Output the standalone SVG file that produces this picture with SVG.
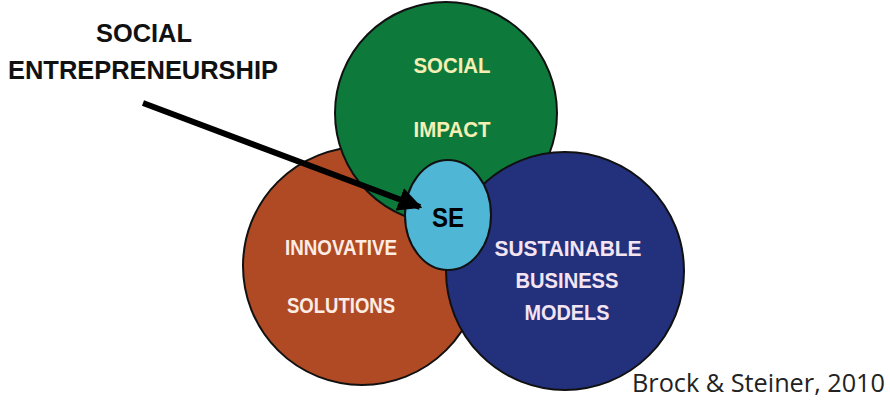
<svg xmlns="http://www.w3.org/2000/svg" width="890" height="400" viewBox="0 0 890 400">
<defs>
<style>
.c{stroke:#111;stroke-width:2}
.t{font-family:"Liberation Sans",Arial,sans-serif;font-weight:bold;text-anchor:middle}
.w{font-size:22px}
</style>
<marker id="ah" viewBox="0 0 10 10" refX="9" refY="5" markerWidth="4" markerHeight="4" orient="auto" markerUnits="strokeWidth">
<path d="M0,0 L10,5 L0,10 z" fill="#000"/>
</marker>
</defs>
<rect width="890" height="400" fill="#fff"/>
<g id="innovative">
<circle class="c" cx="362" cy="266" r="119" fill="#b04a24"/>
<text class="t w" x="341" y="255" fill="#fbece4" textLength="112" lengthAdjust="spacingAndGlyphs">INNOVATIVE</text>
<text class="t w" x="341" y="313" fill="#fbece4" textLength="108" lengthAdjust="spacingAndGlyphs">SOLUTIONS</text>
</g>
<g id="social">
<circle class="c" cx="446" cy="113" r="111" fill="#0d7a3c"/>
<text class="t w" x="452" y="73" fill="#f6efb4" textLength="77" lengthAdjust="spacingAndGlyphs">SOCIAL</text>
<text class="t w" x="452" y="137" fill="#f6efb4" textLength="77" lengthAdjust="spacingAndGlyphs">IMPACT</text>
</g>
<g id="sustainable">
<circle class="c" cx="565" cy="271" r="119" fill="#23307c"/>
<text class="t w" x="568" y="256" fill="#f4e4f2" textLength="147" lengthAdjust="spacingAndGlyphs">SUSTAINABLE</text>
<text class="t w" x="567" y="288" fill="#f4e4f2" textLength="103" lengthAdjust="spacingAndGlyphs">BUSINESS</text>
<text class="t w" x="567" y="320" fill="#f4e4f2" textLength="85" lengthAdjust="spacingAndGlyphs">MODELS</text>
</g>
<g id="se">
<ellipse class="c" cx="448" cy="215" rx="43" ry="55" fill="#4fb6d6"/>
<text class="t" x="448" y="227" font-size="27" fill="#000" textLength="32" lengthAdjust="spacingAndGlyphs">SE</text>
</g>
<g id="label">
<text class="t" x="144" y="42" font-size="26" fill="#111" textLength="96" lengthAdjust="spacingAndGlyphs">SOCIAL</text>
<text class="t" x="143" y="79" font-size="26" fill="#111" textLength="270" lengthAdjust="spacingAndGlyphs">ENTREPRENEURSHIP</text>
</g>
<g id="connectors">
<line x1="143" y1="103" x2="420" y2="207" stroke="#000" stroke-width="6" marker-end="url(#ah)"/>
</g>
<text x="885" y="392" font-family="'Open Sans','Liberation Sans',sans-serif" font-size="25" text-anchor="end" fill="#222" textLength="253" lengthAdjust="spacingAndGlyphs">Brock &amp; Steiner, 2010</text>
</svg>
